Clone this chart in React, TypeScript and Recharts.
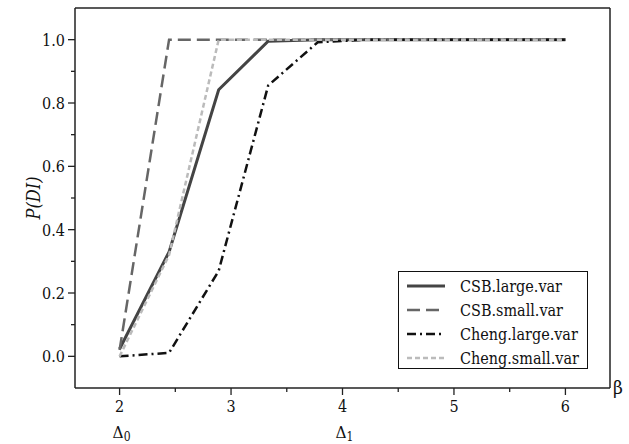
import { Legend, Line, LineChart, ReferenceLine, XAxis, YAxis } from "recharts";

// beta grid (2 .. 6 in 9 equal steps)
const betaValues = [2, 2.444, 2.889, 3.333, 3.778, 4.222, 4.667, 5.111, 5.556, 6];
const csbLarge = [0.023, 0.33, 0.842, 0.995, 1, 1, 1, 1, 1, 1];
const csbSmall = [0.02, 1, 1, 1, 1, 1, 1, 1, 1, 1];
const chengLarge = [0.0, 0.011, 0.27, 0.855, 0.992, 1, 1, 1, 1, 1];
const chengSmall = [0.0, 0.32, 1, 1, 1, 1, 1, 1, 1, 1];

const xTicks = [2, 2.5, 3, 3.5, 4, 4.5, 5, 5.5, 6];
const yTicks = [0, 0.1, 0.2, 0.3, 0.4, 0.5, 0.6, 0.7, 0.8, 0.9, 1.0];
const deltaTicks = [2, 4];
const deltaSubs = ["0", "1"];

const series = [
  { key: "csbLarge", name: "CSB.large.var", color: "#444444", width: 3, dash: undefined },
  { key: "csbSmall", name: "CSB.small.var", color: "#666666", width: 2.5, dash: "13 6" },
  { key: "chengLarge", name: "Cheng.large.var", color: "#111111", width: 2.5, dash: "9 4 2 4" },
  { key: "chengSmall", name: "Cheng.small.var", color: "#bbbbbb", width: 2.5, dash: "5 3" },
];

const data = betaValues.map((b, i) => ({
  beta: b,
  csbLarge: csbLarge[i],
  csbSmall: csbSmall[i],
  chengLarge: chengLarge[i],
  chengSmall: chengSmall[i],
}));

const txt = { fontFamily: "DejaVu Serif", fontStretch: "condensed" } as const;
const INK = "#222";
const TICK_SIZE = 7;
const TICK_MARGIN = 4;

function XTick(props: any) {
  const { x, y, payload } = props;
  const v = payload.value;
  const major = Number.isInteger(v);
  const axisY = y - TICK_SIZE - TICK_MARGIN;
  const di = deltaTicks.indexOf(v);
  return (
    <g>
      <line x1={x} x2={x} y1={axisY} y2={axisY + (major ? 7 : 4)} stroke={INK} strokeWidth={1.3} />
      {major && (
        <text x={x} y={axisY + 24} textAnchor="middle" style={txt} fontSize={16} fill="#111">
          {v}
        </text>
      )}
      {di >= 0 && (
        <text x={x - 7} y={axisY + 50} style={txt} fontSize={17} fill="#111">
          Δ<tspan dy={3} fontSize={12}>{deltaSubs[di]}</tspan>
        </text>
      )}
    </g>
  );
}

function YTick(props: any) {
  const { x, y, payload } = props;
  const v = payload.value;
  const major = Math.round(v * 10) % 2 === 0;
  const axisX = x + TICK_SIZE + TICK_MARGIN;
  return (
    <g>
      <line x1={axisX} x2={axisX - (major ? 7 : 4)} y1={y} y2={y} stroke={INK} strokeWidth={1.3} />
      {major && (
        <text x={axisX - 10} y={y + 6} textAnchor="end" style={txt} fontSize={16} fill="#111">
          {v.toFixed(1)}
        </text>
      )}
    </g>
  );
}

function LegendBox() {
  return (
    <div
      style={{
        border: "1.3px solid #111",
        background: "#fff",
        width: 190,
        height: 98,
        boxSizing: "border-box",
        padding: "2px 0 0 0",
        ...txt,
        fontSize: 16,
        color: "#111",
      }}
    >
      {series.map((s) => (
        <div key={s.key} style={{ display: "flex", alignItems: "center", height: 24 }}>
          <svg width={61} height={24}>
            <line x1={8} x2={46} y1={12} y2={12} stroke={s.color} strokeWidth={s.width} strokeDasharray={s.dash} />
          </svg>
          <span>{s.name}</span>
        </div>
      ))}
    </div>
  );
}

export default function App() {
  return (
    <div style={{ position: "absolute", left: 0, top: 0, width: 629, height: 444, background: "#fff" }}>
      <LineChart width={629} height={444} data={data} margin={{ top: 8, right: 19, bottom: 0, left: 0 }}>
        <XAxis
          dataKey="beta"
          type="number"
          domain={[1.6, 6.4]}
          ticks={xTicks}
          interval={0}
          height={56}
          tickSize={TICK_SIZE}
          tickMargin={TICK_MARGIN}
          tickLine={false}
          tick={XTick}
          axisLine={{ stroke: INK, strokeWidth: 1.5 }}
          label={{
            content: (p: any) => {
              const vb = p.viewBox;
              return (
                <text x={vb.x + vb.width + 3} y={vb.y + 6} style={txt} fontSize={19} fill="#111">
                  β
                </text>
              );
            },
          }}
        />
        <YAxis
          type="number"
          domain={[-0.1, 1.1]}
          ticks={yTicks}
          interval={0}
          width={75}
          tickSize={TICK_SIZE}
          tickMargin={TICK_MARGIN}
          tickLine={false}
          tick={YTick}
          axisLine={{ stroke: INK, strokeWidth: 1.5 }}
          label={{
            content: (p: any) => {
              const vb = p.viewBox;
              const cx = 33;
              const cy = vb.y + vb.height / 2;
              return (
                <text
                  x={cx}
                  y={cy}
                  transform={`rotate(-90 ${cx} ${cy})`}
                  textAnchor="middle"
                  dominantBaseline="central"
                  style={{ ...txt, fontStyle: "italic" }}
                  fontSize={18}
                  fill="#111"
                >
                  P(DI)
                </text>
              );
            },
          }}
        />
        <ReferenceLine x={6.4} stroke={INK} strokeWidth={1.5} />
        <ReferenceLine y={1.1} stroke={INK} strokeWidth={1.5} />
        {series.map((s) => (
          <Line
            key={s.key}
            type="linear"
            dataKey={s.key}
            name={s.name}
            stroke={s.color}
            strokeWidth={s.width}
            strokeDasharray={s.dash}
            dot={false}
            isAnimationActive={false}
          />
        ))}
        <Legend
          layout="vertical"
          align="center"
          verticalAlign="middle"
          content={() => <LegendBox />}
          wrapperStyle={{ left: 398, top: 271, width: 190 }}
        />
      </LineChart>
    </div>
  );
}
